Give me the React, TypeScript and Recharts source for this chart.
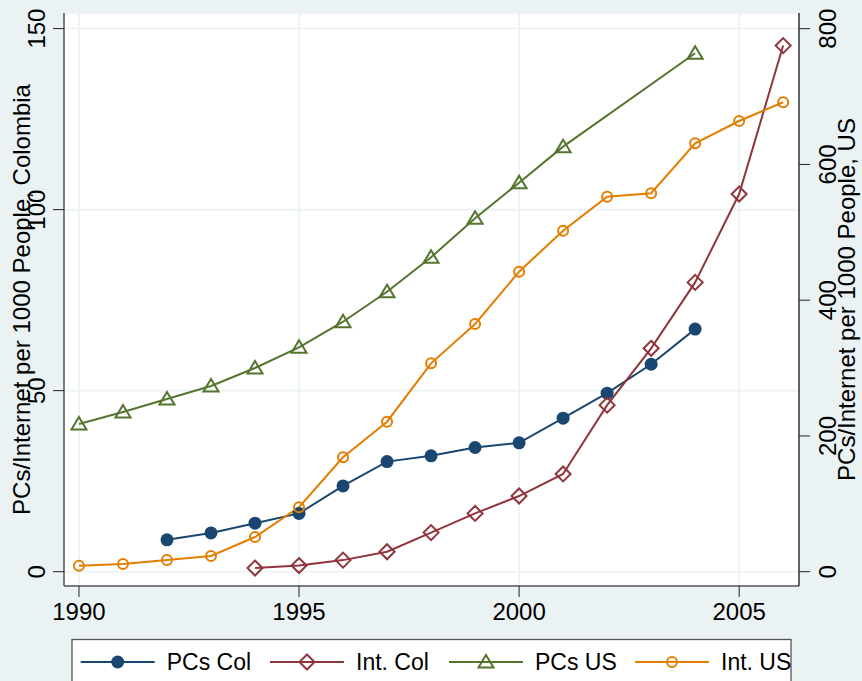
import React from 'react'
import { LineChart, Line, XAxis, YAxis, CartesianGrid } from 'recharts'

const FONT = '"Liberation Sans", Arial, Helvetica, sans-serif'

// values
const years = [1990, 1991, 1992, 1993, 1994, 1995, 1996, 1997, 1998, 1999, 2000, 2001, 2002, 2003, 2004, 2005, 2006]
const pcsCol = [null, null, 8.8, 10.7, 13.4, 16.1, 23.7, 30.4, 32.0, 34.3, 35.6, 42.4, 49.3, 57.3, 67.0, null, null]
const intCol = [null, null, null, null, 1.0, 1.7, 3.2, 5.5, 10.8, 16.1, 20.9, 27.0, 46.0, 61.7, 79.9, 104.3, 145.3]
const pcsUS = [217.6, 235.3, 254.4, 273.6, 300.1, 330.6, 368.3, 412.5, 463.2, 520.7, 573.1, 626.2, null, null, 763.8, null, null]
const intUS = [8.8, 11.3, 17.2, 23.1, 51.1, 94.9, 168.5, 221.0, 307.0, 364.9, 442.0, 502.4, 552.5, 557.5, 631.2, 664.0, 691.6]

const xTicks = [1990, 1995, 2000, 2005]
const leftTicks = [0, 50, 100, 150]
const rightTicks = [0, 200, 400, 600, 800]

const data = years.map((year, i) => ({
  year,
  pcsCol: pcsCol[i],
  intCol: intCol[i],
  pcsUS: pcsUS[i],
  intUS: intUS[i],
}))

type Shape = 'dot' | 'diamond' | 'triangle' | 'circle'

const series: { key: string; name: string; color: string; axis: string; shape: Shape }[] = [
  { key: 'pcsCol', name: 'PCs Col', color: '#1A476F', axis: 'left', shape: 'dot' },
  { key: 'intCol', name: 'Int. Col', color: '#90353B', axis: 'left', shape: 'diamond' },
  { key: 'pcsUS', name: 'PCs US', color: '#55752F', axis: 'right', shape: 'triangle' },
  { key: 'intUS', name: 'Int. US', color: '#E37E00', axis: 'right', shape: 'circle' },
]

// legend entry start positions (Stata spaces them by label width)
const legendX = [80.7, 270, 449, 635]

function Marker({ shape, color, cx, cy }: { shape: Shape; color: string; cx: number; cy: number }) {
  if (shape === 'dot') return <circle cx={cx} cy={cy} r={6.5} fill={color} />
  if (shape === 'diamond')
    return (
      <path
        d={`M${cx},${cy - 7.5}L${cx + 7.5},${cy}L${cx},${cy + 7.5}L${cx - 7.5},${cy}Z`}
        fill="none"
        stroke={color}
        strokeWidth={2}
      />
    )
  if (shape === 'triangle')
    return (
      <path
        d={`M${cx},${cy - 7}L${cx + 7.5},${cy + 5.5}L${cx - 7.5},${cy + 5.5}Z`}
        fill="none"
        stroke={color}
        strokeWidth={2}
      />
    )
  return <circle cx={cx} cy={cy} r={5} fill="none" stroke={color} strokeWidth={2} />
}

function XTick({ x, y, payload }: any) {
  return (
    <text x={x} y={y} textAnchor="middle" fontSize={24} fontFamily={FONT} fill="#000">
      {payload.value}
    </text>
  )
}

function YTick({ x, y, payload }: any) {
  return (
    <text
      x={x}
      y={y}
      transform={`rotate(-90 ${x} ${y})`}
      textAnchor="middle"
      fontSize={24}
      fontFamily={FONT}
      fill="#000"
    >
      {payload.value}
    </text>
  )
}

function axisTitle(text: string, side: 'left' | 'right') {
  return ({ viewBox }: any) => {
    const x = side === 'left' ? viewBox.x + viewBox.width - 34 : viewBox.x + 56
    const y = viewBox.y + viewBox.height / 2
    return (
      <text
        x={x}
        y={y}
        transform={`rotate(-90 ${x} ${y})`}
        textAnchor="middle"
        fontSize={24}
        fontFamily={FONT}
        fill="#000"
      >
        {text}
      </text>
    )
  }
}

export default function App() {
  return (
    <div
      style={{
        position: 'absolute',
        left: 0,
        top: 0,
        width: 862,
        height: 681,
        background: '#EAF2F3',
        overflow: 'hidden',
      }}
    >
      <LineChart width={862} height={681} data={data} margin={{ top: 13, right: 0, bottom: 0, left: 0 }}>
        <CartesianGrid yAxisId="left" fill="#FFFFFF" stroke="#EAF2F3" strokeWidth={1.6} />
        <XAxis
          dataKey="year"
          type="number"
          domain={[1989.66, 2006.36]}
          ticks={xTicks}
          allowDataOverflow
          height={95}
          tickSize={11}
          tickMargin={23}
          axisLine={{ stroke: '#555', strokeWidth: 1.5 }}
          tickLine={{ stroke: '#222' }}
          tick={<XTick />}
        />
        <YAxis
          yAxisId="left"
          domain={[-3.95, 154.3]}
          ticks={leftTicks}
          allowDataOverflow
          width={64}
          tickSize={11}
          tickMargin={8}
          axisLine={{ stroke: '#555', strokeWidth: 1.5 }}
          tickLine={{ stroke: '#222' }}
          tick={<YTick />}
          label={{ content: axisTitle('PCs/Internet per 1000 People, Colombia', 'left') }}
        />
        <YAxis
          yAxisId="right"
          orientation="right"
          domain={[-21.07, 823.1]}
          ticks={rightTicks}
          allowDataOverflow
          width={63}
          tickSize={11}
          tickMargin={26}
          axisLine={{ stroke: '#333', strokeWidth: 1.5 }}
          tickLine={{ stroke: '#222' }}
          tick={<YTick />}
          label={{ content: axisTitle('PCs/Internet per 1000 People, US', 'right') }}
        />
        {series.map((s) => (
          <Line
            key={s.key}
            yAxisId={s.axis}
            dataKey={s.key}
            name={s.name}
            stroke={s.color}
            strokeWidth={2}
            connectNulls
            isAnimationActive={false}
            activeDot={false}
            dot={(p: any) =>
              p.cx == null || p.cy == null || p.value == null ? (
                <g key={`${s.key}-${p.index}`} />
              ) : (
                <Marker key={`${s.key}-${p.index}`} shape={s.shape} color={s.color} cx={p.cx} cy={p.cy} />
              )
            }
          />
        ))}
      </LineChart>

      {/* Legend */}
      <svg width={862} height={681} style={{ position: 'absolute', left: 0, top: 0, pointerEvents: 'none' }}>
        <defs>
          <clipPath id="legendClip">
            <rect x={72} y={639.5} width={719} height={60} />
          </clipPath>
        </defs>
        <rect x={72} y={639.5} width={719} height={60} fill="#FFFFFF" stroke="#555" strokeWidth={1.3} />
        <g clipPath="url(#legendClip)">
          {series.map((s, i) => {
            const lx = legendX[i]
            return (
              <g key={s.key}>
                <line x1={lx} x2={lx + 74} y1={662} y2={662} stroke={s.color} strokeWidth={2} />
                <Marker shape={s.shape} color={s.color} cx={lx + 37} cy={662} />
                <text x={lx + 86} y={669.5} fontSize={23} fontFamily={FONT} fill="#000">
                  {s.name}
                </text>
              </g>
            )
          })}
        </g>
      </svg>
    </div>
  )
}
